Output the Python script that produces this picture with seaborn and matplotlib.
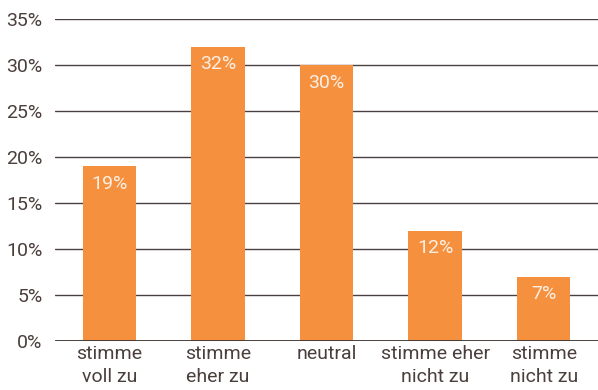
import matplotlib
matplotlib.use("Agg")
import matplotlib.pyplot as plt
import seaborn as sns
import pandas as pd

categories = ["stimme\nvoll zu", "stimme\neher zu", "neutral", "stimme eher\nnicht zu", "stimme\nnicht zu"]
values = [19, 32, 30, 12, 7]
y_ticks = [0, 5, 10, 15, 20, 25, 30, 35]

sns.set_theme(style="white")
plt.rcParams["font.family"] = ["Roboto", "DejaVu Sans"]

text_color = "#4a3f3c"
grid_color = "#4a4040"
bar_color = "#f5913e"

df = pd.DataFrame({"category": categories, "value": values})

fig = plt.figure(figsize=(5.98, 3.90), dpi=100)
ax = fig.add_axes([0.092, 0.1256, 0.908, 0.8256])

for t in y_ticks[1:]:
    ax.axhline(t, color=grid_color, lw=1.0, zorder=0)

sns.barplot(data=df, x="category", y="value", color=bar_color, saturation=1,
            width=0.49, linewidth=0, ax=ax, zorder=2)

ax.axhline(0, color="#3a302d", lw=2.0, zorder=3)

for i, v in enumerate(values):
    ax.text(i, v - 0.95, f"{v}%", ha="center", va="top", color="#fdeee3",
            fontsize=14, zorder=4)

ax.set_xlim(-0.5, 4.5)
ax.set_ylim(0, 35)
ax.set_yticks(y_ticks)
ax.set_yticklabels([f"{t}%" for t in y_ticks])
ax.set_xlabel("")
ax.set_ylabel("")
for s in ax.spines.values():
    s.set_visible(False)
ax.tick_params(axis="y", length=0, pad=9, labelsize=14, labelcolor=text_color)
ax.tick_params(axis="x", length=0, pad=3, labelsize=14, labelcolor=text_color)
for lbl in ax.get_xticklabels():
    lbl.set_linespacing(1.35)

fig.savefig("out.png", dpi=100)
